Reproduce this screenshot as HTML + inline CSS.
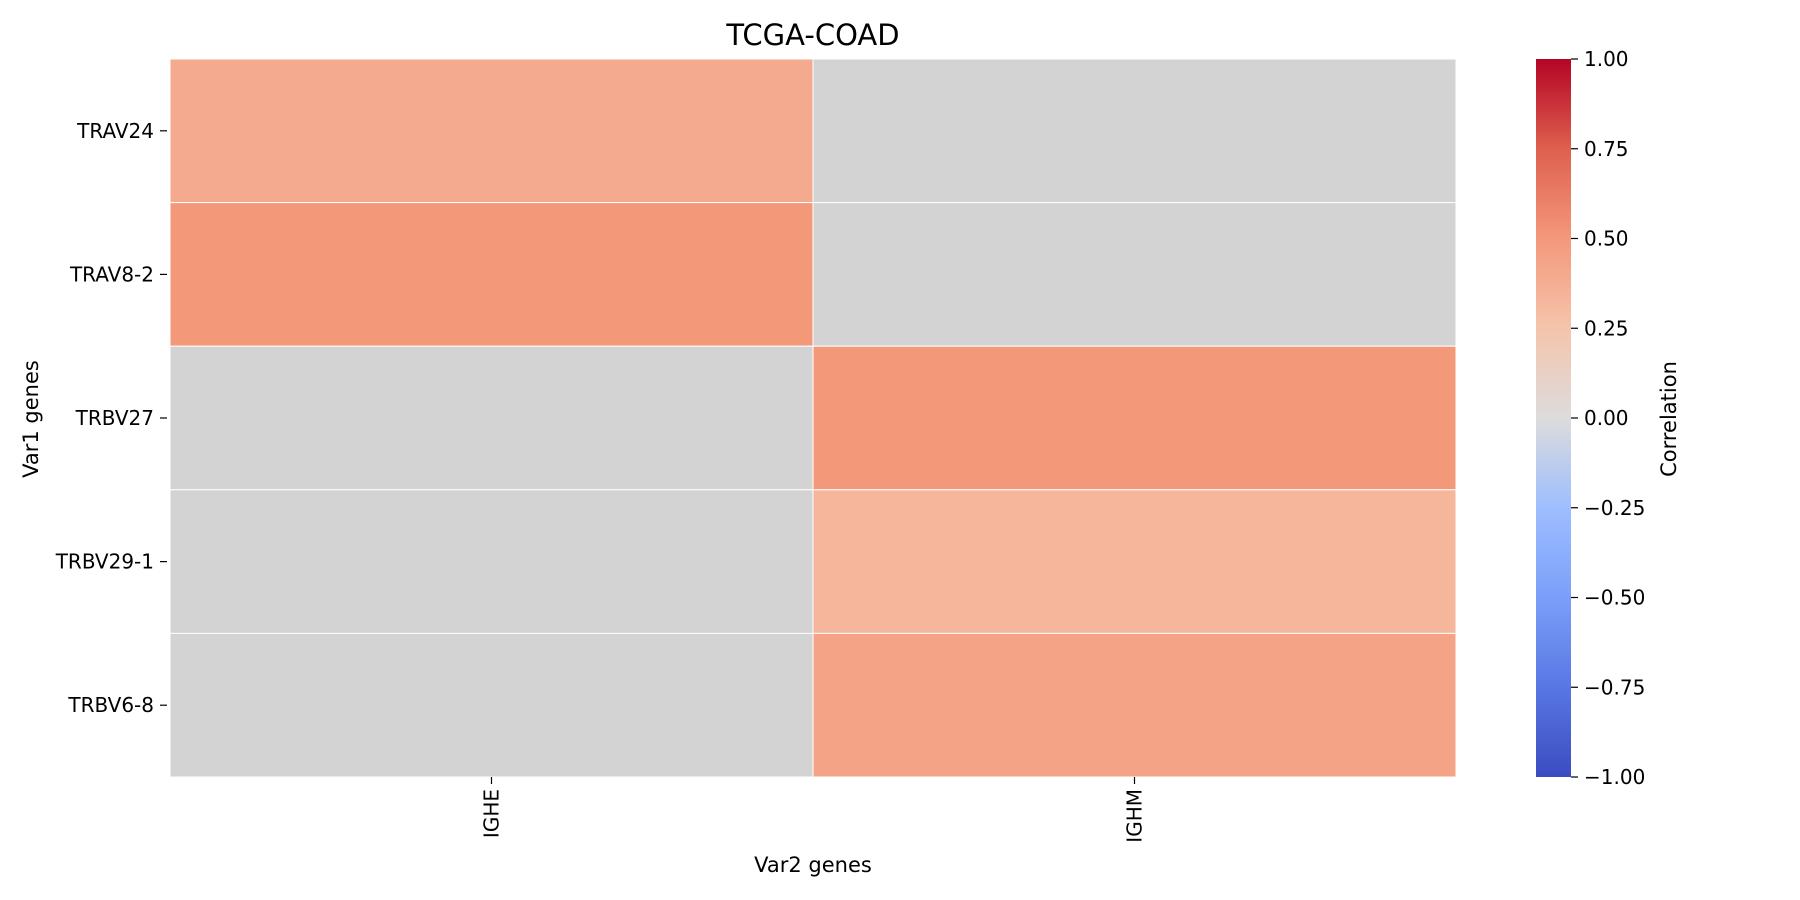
<!DOCTYPE html>
<html><head><meta charset="utf-8"><style>
body{margin:0;background:#fff;}
svg{display:block;font-family:"DejaVu Sans","Liberation Sans",sans-serif;}
</style></head><body>
<svg id="chart" width="1800" height="900" viewBox="0 0 1800 900" xmlns="http://www.w3.org/2000/svg">
<defs>
<linearGradient id="cw" x1="0" y1="1" x2="0" y2="0">
<stop offset="0" stop-color="#3b4cc0"/><stop offset="0.125" stop-color="#5977e3"/>
<stop offset="0.25" stop-color="#7b9ff9"/><stop offset="0.375" stop-color="#9ebeff"/>
<stop offset="0.5" stop-color="#dddcdc"/><stop offset="0.625" stop-color="#f5c4ac"/>
<stop offset="0.75" stop-color="#f4987a"/><stop offset="0.875" stop-color="#de604d"/>
<stop offset="1" stop-color="#b40426"/>
</linearGradient>
</defs>
<text x="813" y="45" font-size="29" text-anchor="middle" fill="#000">TCGA-COAD</text>
<g id="cells"></g>
<g id="axes"></g>
<rect x="1536" y="59" width="35" height="718" fill="url(#cw)"/>
<g id="cbticks"></g>
<text x="0" y="0" font-size="21" text-anchor="middle" transform="translate(1676,419) rotate(-90)">Correlation</text>
<text x="813" y="872" font-size="21" text-anchor="middle">Var2 genes</text>
<text x="0" y="0" font-size="21" text-anchor="middle" transform="translate(38,419) rotate(-90)">Var1 genes</text>
</svg>
<script>
const rows = ["TRAV24","TRAV8-2","TRBV27","TRBV29-1","TRBV6-8"];
const cols = ["IGHE","IGHM"];
const colIGHE = [0.40, 0.5, null, null, null];
const colIGHM = [null, null, 0.5, 0.33, 0.44];
const cbTicks = [1.00,0.75,0.50,0.25,0.00,-0.25,-0.50,-0.75,-1.00];

const NS="http://www.w3.org/2000/svg";
const L=170,R=1456,T=59,B=777;
const cw=(R-L)/cols.length, rh=(B-T)/rows.length;
const xPos=i=>L+i*cw, yPos=j=>T+j*rh;
const cbY=v=>T+(1-v)/2*(B-T);
const anchors=[[59,76,192],[89,119,227],[123,159,249],[158,190,255],[221,220,220],[245,196,172],[244,152,122],[222,96,77],[180,4,38]];
function color(v){
  const t=(v+1)/2*8; const i=Math.min(7,Math.floor(t)); const f=t-i;
  const a=anchors[i],b=anchors[i+1];
  return "rgb("+a.map((c,k)=>Math.round(c+(b[k]-c)*f)).join(",")+")";
}
function mk(tag,attrs,parent){const e=document.createElementNS(NS,tag);for(const k in attrs)e.setAttribute(k,attrs[k]);parent.appendChild(e);return e;}
const cells=document.getElementById("cells"), axes=document.getElementById("axes"), cbt=document.getElementById("cbticks");
const series=[colIGHE,colIGHM];
series.forEach((s,i)=>{s.forEach((v,j)=>{
  const r=mk("rect",{x:xPos(i),y:yPos(j),width:cw,height:rh,fill:v===null?"#d3d3d3":color(v),stroke:"#fff","stroke-width":1},cells);
  
  
});});
rows.forEach((n,j)=>{
  const y=yPos(j)+rh/2;
  mk("line",{x1:160,x2:167,y1:y,y2:y,stroke:"#000","stroke-width":1.2},axes);
  const t=mk("text",{x:154,y:y+7,"font-size":"20","text-anchor":"end"},axes);t.textContent=n;
  
  
});
cols.forEach((n,i)=>{
  const x=xPos(i)+cw/2;
  mk("line",{x1:x,x2:x,y1:777,y2:784,stroke:"#000","stroke-width":1.2},axes);
  const t=mk("text",{x:0,y:0,"font-size":"20","text-anchor":"end",transform:"translate("+(x+7)+",789) rotate(-90)"},axes);t.textContent=n;
  
  
});
cbTicks.forEach(v=>{
  const y=cbY(v);
  mk("line",{x1:1571,x2:1578,y1:y,y2:y,stroke:"#000","stroke-width":1.2},cbt);
  const t=mk("text",{x:1584,y:y+7,"font-size":"20"},cbt);
  t.textContent=(v<0?"\u2212":"")+Math.abs(v).toFixed(2);
  
  
});
</script>
</body></html>
